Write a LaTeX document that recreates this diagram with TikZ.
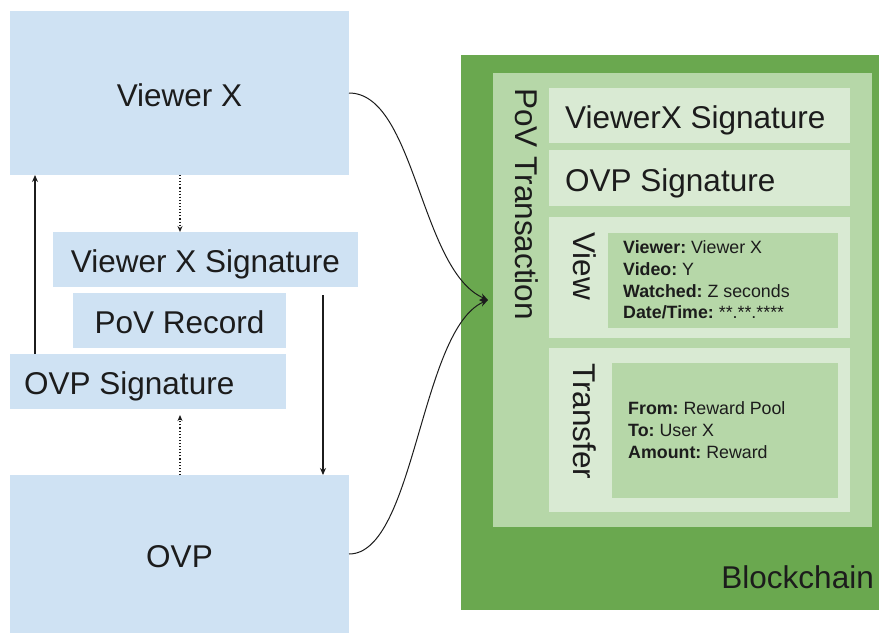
\documentclass[tikz,border=0pt]{standalone}
\usepackage{fontspec}
\setmainfont{Liberation Sans}
\usetikzlibrary{arrows.meta}
\definecolor{bluebox}{HTML}{CFE2F3}
\definecolor{chaingreen}{HTML}{6AA84F}
\definecolor{midgreen}{HTML}{B6D7A8}
\definecolor{palegreen}{HTML}{D9EAD3}
\definecolor{ink}{HTML}{1C1C1C}
\frenchspacing
\begin{document}
\begin{tikzpicture}[x=1pt,y=-1pt,
  every node/.style={text=ink},
  area/.style={draw=none, inner sep=0pt, outer sep=0pt, anchor=north west},
  bigtext/.style={font=\fontsize{31.5}{36}\selectfont, text height=26pt, text depth=0pt},
  smalltext/.style={font=\fontsize{17.8}{22}\selectfont, inner sep=0pt, anchor=base west},
  vlabel/.style={font=\fontsize{31.5}{36}\selectfont, inner sep=0pt, rotate=-90, anchor=base west},
  flow/.style={draw=ink, line width=1.2pt, -{Stealth[length=7pt,width=6pt]}},
  sigflow/.style={draw=ink, line width=1.1pt, dotted, -{Stealth[length=6pt,width=5pt]}},
  feed/.style={draw=ink, line width=1pt, -{Stealth[length=8pt,width=7pt]}}]
\useasboundingbox (0,0) rectangle (879,633);

% --- parties and the signed record ---
\node[area, fill=bluebox, minimum width=339pt, minimum height=164pt, bigtext] (viewer) at (10,11) {Viewer X};
\node[area, fill=bluebox, minimum width=305pt, minimum height=55pt, bigtext] (vsig) at (53,232) {Viewer X Signature};
\node[area, fill=bluebox, minimum width=213pt, minimum height=55pt, bigtext] (record) at (73,293) {PoV Record};
\node[area, fill=bluebox, minimum width=276pt, minimum height=55pt] (osig) at (10,354) {};
\node[bigtext, anchor=west, inner sep=0pt] (osigtxt) at ([xshift=14pt]osig.west) {OVP Signature};
\node[area, fill=bluebox, minimum width=339pt, minimum height=158pt, bigtext] (ovp) at (10,475) {OVP};

% --- blockchain with the PoV transaction ---
\node[area, fill=chaingreen, minimum width=418pt, minimum height=555pt] (chain) at (461,55) {};
\node[font=\fontsize{31.5}{36}\selectfont, anchor=base east, inner sep=0pt] (chaintxt) at (874,588) {Blockchain};
\node[area, fill=midgreen, minimum width=379pt, minimum height=454pt] (tx) at (493,73) {};
\node[vlabel] (txtxt) at (515,88) {PoV Transaction};

\node[area, fill=palegreen, minimum width=301pt, minimum height=55pt] (rvsig) at (549,88) {};
\node[bigtext, anchor=west, inner sep=0pt] (rvsigtxt) at ([xshift=16pt]rvsig.west) {ViewerX Signature};
\node[area, fill=palegreen, minimum width=301pt, minimum height=56pt] (rosig) at (549,150) {};
\node[bigtext, anchor=west, inner sep=0pt] (rosigtxt) at ([xshift=16pt]rosig.west) {OVP Signature};

\node[area, fill=palegreen, minimum width=301pt, minimum height=121pt] (view) at (549,217) {};
\node[vlabel] (viewtxt) at (573,232) {View};
\node[area, fill=midgreen, minimum width=230pt, minimum height=95pt] (viewdata) at (608,233) {};
\node[smalltext] (l1) at (623,253) {\textbf{Viewer:} Viewer X};
\node[smalltext] (l2) at (623,275) {\textbf{Video:} Y};
\node[smalltext] (l3) at (623,297) {\textbf{Watched:} Z seconds};
\node[smalltext] (l4) at (623,318) {\textbf{Date/Time:} **.**.****};

\node[area, fill=palegreen, minimum width=301pt, minimum height=164pt] (transfer) at (549,348) {};
\node[vlabel] (transfertxt) at (573,363) {Transfer};
\node[area, fill=midgreen, minimum width=226pt, minimum height=135pt] (transferdata) at (612,363) {};
\node[smalltext] (t1) at (628,414) {\textbf{From:} Reward Pool};
\node[smalltext] (t2) at (628,436) {\textbf{To:} User X};
\node[smalltext] (t3) at (628,458) {\textbf{Amount:} Reward};

% --- exchange of signatures ---
\coordinate (upfoot) at (35,354);
\coordinate (downtop) at (323,295);
\coordinate (sigline) at (180,0);
\draw[flow] (upfoot) -- (upfoot |- viewer.south);
\draw[flow] (downtop) -- (downtop |- ovp.north);
\draw[sigflow] (viewer.south -| sigline) -- (vsig.north -| sigline);
\draw[sigflow] (ovp.north -| sigline) -- ([yshift=-6pt]osig.south -| sigline);

% --- both parties submit to the chain ---
\coordinate (entry) at (488,300);
\draw[feed] (viewer.east) .. controls (415,93) and (420,270) .. (entry);
\draw[feed] (ovp.east) .. controls (415,554) and (420,330) .. (entry);
\end{tikzpicture}
\end{document}
